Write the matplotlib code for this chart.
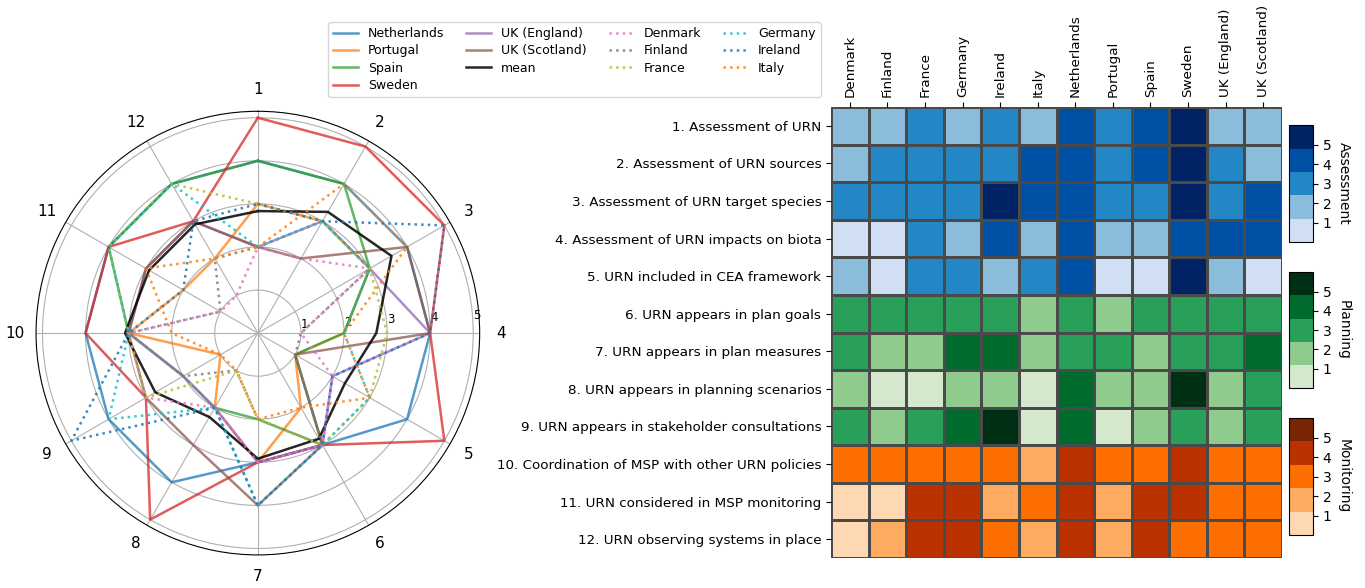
import numpy as np
import matplotlib
matplotlib.use('Agg')
import matplotlib.pyplot as plt
from matplotlib.colors import ListedColormap, Normalize

countries = ['Denmark', 'Finland', 'France', 'Germany', 'Ireland', 'Italy',
             'Netherlands', 'Portugal', 'Spain', 'Sweden', 'UK (England)', 'UK (Scotland)']

questions = ['1. Assessment of URN',
             '2. Assessment of URN sources',
             '3. Assessment of URN target species',
             '4. Assessment of URN impacts on biota',
             '5. URN included in CEA framework',
             '6. URN appears in plan goals',
             '7. URN appears in plan measures',
             '8. URN appears in planning scenarios',
             '9. URN appears in stakeholder consultations',
             '10. Coordination of MSP with other URN policies',
             '11. URN considered in MSP monitoring',
             '12. URN observing systems in place']

# scores per question (rows) and country (columns)
assessment = [[2, 2, 3, 2, 3, 2, 4, 3, 4, 5, 2, 2],
              [2, 3, 3, 3, 3, 4, 4, 3, 4, 5, 3, 2],
              [3, 3, 3, 3, 5, 4, 4, 3, 3, 5, 3, 4],
              [1, 1, 3, 2, 4, 2, 4, 2, 2, 4, 4, 4],
              [2, 1, 3, 3, 2, 3, 4, 1, 1, 5, 2, 1]]
planning = [[3, 3, 3, 3, 3, 2, 3, 2, 3, 3, 3, 3],
            [3, 2, 2, 4, 4, 2, 3, 3, 2, 3, 3, 4],
            [2, 1, 1, 2, 2, 1, 4, 2, 2, 5, 2, 3],
            [3, 2, 3, 4, 5, 1, 4, 1, 2, 3, 2, 3]]
monitoring = [[3, 3, 3, 3, 3, 2, 4, 3, 3, 4, 3, 3],
              [1, 1, 4, 4, 2, 3, 4, 2, 4, 4, 3, 3],
              [1, 2, 4, 4, 3, 2, 4, 2, 4, 3, 3, 3]]

solid_countries = ['Netherlands', 'Portugal', 'Spain', 'Sweden', 'UK (England)', 'UK (Scotland)']
dotted_countries = ['Denmark', 'Finland', 'France', 'Germany', 'Ireland', 'Italy']

blues = ['#d0dff4', '#8bbcdc', '#2387c6', '#0050a5', '#002366']
greens = ['#d3e8cd', '#90cb8e', '#29a05a', '#006b2c', '#003014']
oranges = ['#fdd8b3', '#fdab60', '#fd6e00', '#bb3200', '#792404']

scores = np.array(assessment + planning + monitoring)
n_q = scores.shape[0]

fig = plt.figure(figsize=(13.65, 5.88), dpi=100)

# ---- radar chart ----
ax = fig.add_axes([0.0264, 0.056, 0.325, 0.755], projection='polar')
ax.set_theta_offset(np.pi / 2)
ax.set_theta_direction(-1)
angles = np.linspace(0, 2 * np.pi, n_q, endpoint=False)
closed = np.append(angles, angles[0])

tab = plt.rcParams['axes.prop_cycle'].by_key()['color']
handles = []
for i, name in enumerate(solid_countries):
    vals = scores[:, countries.index(name)]
    h, = ax.plot(closed, np.append(vals, vals[0]), color=tab[i], lw=1.8, alpha=0.75, label=name)
    handles.append(h)
mean = scores.mean(axis=1)
h, = ax.plot(closed, np.append(mean, mean[0]), color='k', lw=1.8, alpha=0.85, label='mean')
handles.append(h)
for i, name in enumerate(dotted_countries):
    vals = scores[:, countries.index(name)]
    h, = ax.plot(closed, np.append(vals, vals[0]), color=tab[(i + 6) % 10], lw=1.8,
                 ls=':', alpha=0.85, label=name)
    handles.append(h)

ax.set_xticks(angles)
ax.set_xticklabels([str(i + 1) for i in range(n_q)], fontsize=11)
ax.set_ylim(0, 5.15)
ax.set_yticks([1, 2, 3, 4, 5])
ax.set_yticklabels(['1', '2', '3', '4', '5'], fontsize=8.5)
ax.set_rlabel_position(87)
ax.tick_params(axis='x', pad=5)

fig.legend(handles=handles, loc='upper left', bbox_to_anchor=(328 / 1365, 1 - 22 / 588),
           borderaxespad=0, ncol=4, fontsize=9, labelspacing=0.35, columnspacing=1.75,
           frameon=True)

# ---- heatmap ----
hax = fig.add_axes([0.6088, 0.051, 0.3304, 0.767])
norm = Normalize(vmin=0, vmax=6)
groups = [(0, 5, blues, 'Assessment'), (5, 9, greens, 'Planning'), (9, 12, oranges, 'Monitoring')]
cbar_pos = [[0.9443, 0.588, 0.0176, 0.199],
            [0.9443, 0.340, 0.0176, 0.197],
            [0.9443, 0.090, 0.0176, 0.199]]
x_edges = np.arange(len(countries) + 1)
for (r0, r1, cols, label), pos in zip(groups, cbar_pos):
    cmap = ListedColormap(cols)
    mesh = hax.pcolormesh(x_edges, np.arange(r0, r1 + 1), scores[r0:r1], cmap=cmap, norm=norm,
                          edgecolor='#4a4a4a', linewidth=0.8)
    cax = fig.add_axes(pos)
    cb = fig.colorbar(mesh, cax=cax, ticks=[1, 2, 3, 4, 5])
    cb.ax.tick_params(labelsize=10)
    cb.set_label(label, rotation=270, labelpad=14, fontsize=10)

hax.set_xlim(0, len(countries))
hax.set_ylim(n_q, 0)
hax.set_xticks(np.arange(len(countries)) + 0.5)
hax.set_xticklabels(countries, rotation=90, fontsize=9.7)
hax.xaxis.tick_top()
hax.set_yticks(np.arange(n_q) + 0.5)
hax.set_yticklabels(questions, fontsize=9.7)
for s in hax.spines.values():
    s.set_visible(False)

fig.savefig('out.png', dpi=100)
